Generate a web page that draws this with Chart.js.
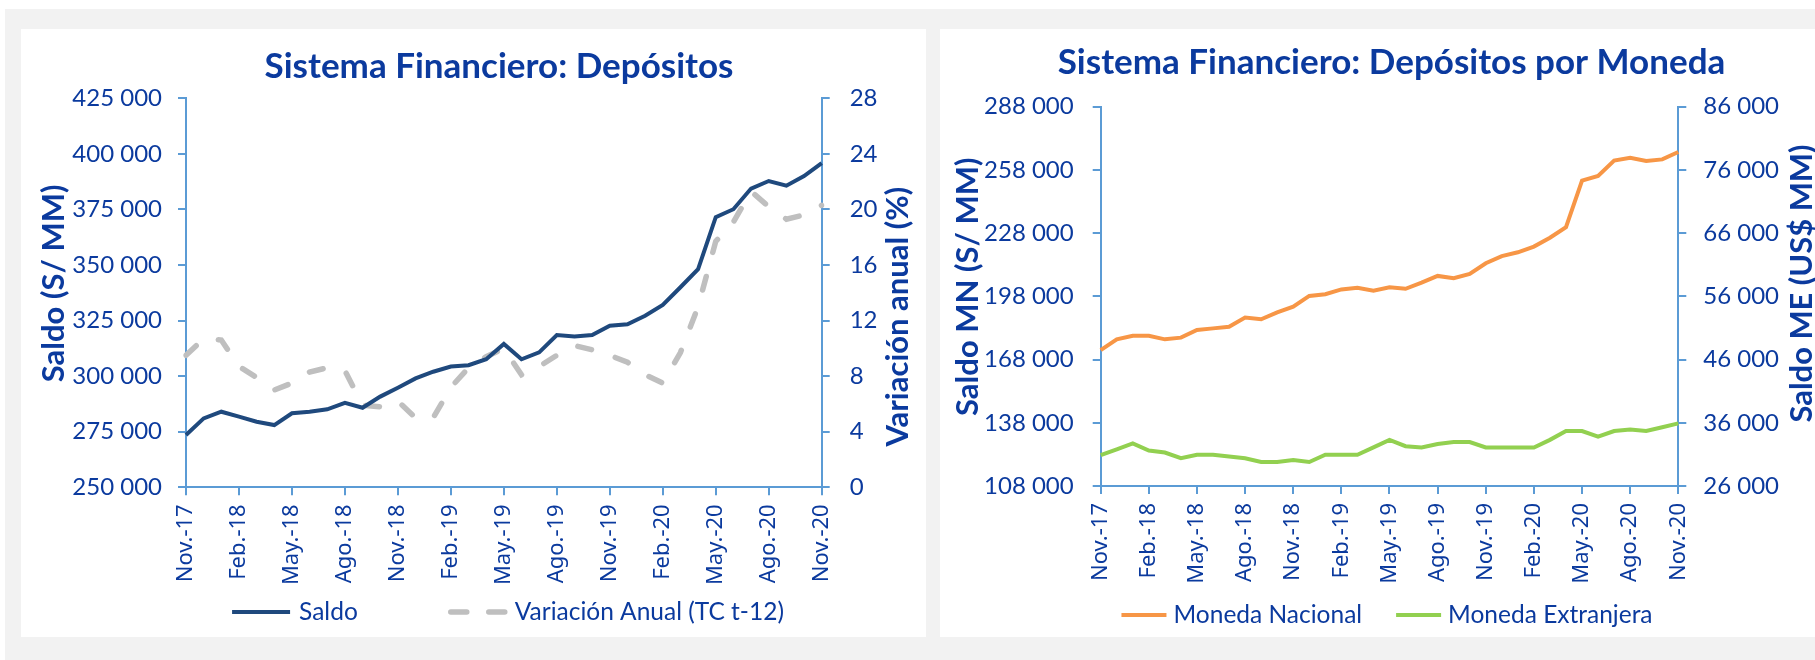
<!DOCTYPE html>
<html lang="es">
<head>
<meta charset="utf-8">
<title>Sistema Financiero: Depósitos</title>
<script src="https://cdn.jsdelivr.net/npm/chart.js@4.4.1/dist/chart.umd.min.js"></script>
<style>
  html, body { margin: 0; padding: 0; background: #fff; }
  body { width: 1815px; height: 660px; position: relative; overflow: hidden; }
  .fondo { position: absolute; left: 5px; top: 9px; right: 0; bottom: 0; background: #f2f2f2; }
  .panel { position: absolute; top: 29px; height: 608px; background: #fff; }
  #panelIzq { left: 21px; width: 905px; }
  #panelDer { left: 940px; width: 875px; }
  canvas { display: block; }
</style>
</head>
<body>
<div class="fondo"></div>
<div class="panel" id="panelIzq"><canvas id="chartDepositos" width="905" height="608"></canvas></div>
<div class="panel" id="panelDer"><canvas id="chartMoneda" width="875" height="608"></canvas></div>
<script>
// Datos (nov-17 a nov-20, mensual)
const meses = [
  'Nov.-17', 'Dic.-17', 'Ene.-18', 'Feb.-18', 'Mar.-18', 'Abr.-18', 'May.-18', 'Jun.-18', 'Jul.-18', 'Ago.-18',
  'Set.-18', 'Oct.-18', 'Nov.-18', 'Dic.-18', 'Ene.-19', 'Feb.-19', 'Mar.-19', 'Abr.-19', 'May.-19', 'Jun.-19',
  'Jul.-19', 'Ago.-19', 'Set.-19', 'Oct.-19', 'Nov.-19', 'Dic.-19', 'Ene.-20', 'Feb.-20', 'Mar.-20', 'Abr.-20',
  'May.-20', 'Jun.-20', 'Jul.-20', 'Ago.-20', 'Set.-20', 'Oct.-20', 'Nov.-20'
];
const saldo = [
  273500, 281000, 284000, 281800, 279500, 278000, 283300, 284000, 285100, 288000,
  285800, 290800, 294800, 299000, 302000, 304300, 304900, 307600, 314500, 307600,
  310700, 318500, 317800, 318500, 322700, 323300, 327200, 332000, 340000, 348100,
  371500, 375100, 384400, 387800, 385700, 390000, 395800
];
const variacionAnual = [
  9.5, 10.7, 10.6, 8.7, 7.9, 7.0, 7.5, 8.3, 8.6, 8.4,
  5.9, 5.8, 6.2, 5.0, 5.0, 7.2, 8.6, 9.4, 10.0, 8.1,
  8.7, 9.5, 10.2, 9.9, 9.5, 9.0, 8.1, 7.5, 9.7, 13.0,
  17.7, 19.1, 21.3, 20.2, 19.3, 19.6, 20.3
];
const monedaNacional = [
  172500, 177600, 179300, 179300, 177600, 178400, 182000, 182800, 183600, 187900,
  187100, 190400, 193100, 198200, 199000, 201300, 202100, 200700, 202300, 201600,
  204500, 207700, 206600, 208600, 213700, 217100, 218900, 221600, 225800, 230800,
  252900, 255100, 262400, 263800, 262200, 263000, 266500
];
const monedaExtranjera = [
  30900, 31800, 32750, 31600, 31300, 30400, 30950, 30950, 30650, 30400,
  29800, 29800, 30100, 29800, 30950, 30950, 30950, 32100, 33300, 32300,
  32100, 32650, 32950, 32950, 32100, 32100, 32100, 32100, 33300, 34700,
  34700, 33800, 34700, 34950, 34700, 35300, 35900
];

const azulTexto = '#0b3a9e';
const azulEje = '#5b9bd5';
const fuente = 'Lato, "Open Sans", sans-serif';
const ALTO = 608;

Chart.defaults.font.family = fuente;
Chart.defaults.color = azulTexto;

const miles = v => String(v).replace(/\B(?=(\d{3})+(?!\d))/g, ' ');

// Titulos de eje verticales, leidos de abajo hacia arriba (como en Excel)
const titulosEjes = (items) => ({
  id: 'titulosEjes',
  afterDraw(chart) {
    const ctx = chart.ctx;
    ctx.save();
    ctx.fillStyle = azulTexto;
    ctx.font = `bold 31px ${fuente}`;
    ctx.textAlign = 'center';
    ctx.textBaseline = 'middle';
    items.forEach(t => {
      ctx.save();
      ctx.translate(t.x, t.y);
      ctx.rotate(-Math.PI / 2);
      ctx.fillText(t.text, 0, 0, t.largo);
      ctx.restore();
    });
    ctx.restore();
  }
});

// Leyenda dibujada a mano: la de Chart.js usa el mismo padding en horizontal y vertical
const leyendaPropia = (cfg) => ({
  id: 'leyendaPropia',
  afterDraw(chart) {
    const ctx = chart.ctx;
    ctx.save();
    ctx.font = `24.5px ${fuente}`;
    ctx.textBaseline = 'middle';
    const items = chart.data.datasets.map(ds => ({ ds, w: ctx.measureText(ds.label).width }));
    const total = items.reduce((s, it) => s + cfg.muestra + cfg.sep + it.w, 0) + cfg.espacio * (items.length - 1);
    let x = cfg.centro - total / 2;
    items.forEach(({ ds, w }) => {
      const punteada = Array.isArray(ds.borderDash);
      ctx.beginPath();
      ctx.strokeStyle = ds.borderColor;
      ctx.lineWidth = ds.borderWidth;
      ctx.lineCap = ds.borderCapStyle || 'butt';
      ctx.setLineDash(punteada ? [16, 22] : []);
      ctx.moveTo(x + (punteada ? 3 : 0), cfg.y);
      ctx.lineTo(x + cfg.muestra, cfg.y);
      ctx.stroke();
      ctx.setLineDash([]);
      x += cfg.muestra + cfg.sep;
      ctx.fillStyle = azulTexto;
      ctx.fillText(ds.label, x, cfg.y);
      x += w + cfg.espacio;
    });
    ctx.restore();
  }
});

const ejeY = (position, min, max, step, padding, ancho) => ({
  position, min, max,
  ticks: { stepSize: step, padding, color: azulTexto, font: { size: 24 }, callback: v => miles(v) },
  grid: { drawOnChartArea: false, tickLength: 8, lineWidth: 2, color: azulEje },
  border: { color: azulEje, width: 2 },
  afterFit: s => { s.width = ancho; }
});

const ejeX = (fondoGrafico) => ({
  ticks: {
    autoSkip: false, minRotation: 90, maxRotation: 90, padding: 9,
    color: azulTexto, font: { family: '"Noto Sans", "DejaVu Sans", sans-serif', size: 22 },
    callback: function (v, i) { return i % 3 === 0 ? this.getLabelForValue(v) : ''; }
  },
  grid: {
    drawOnChartArea: false, tickLength: 8, lineWidth: 2,
    color: c => (c.index % 3 === 0 ? azulEje : 'rgba(0,0,0,0)')
  },
  border: { color: azulEje, width: 2 },
  afterFit: s => { s.height = ALTO - fondoGrafico; }
});

const titulo = (texto, arriba, abajo) => ({
  display: true, text: texto, color: azulTexto,
  font: { size: 35, weight: 'bold', lineHeight: 1.2 },
  padding: { top: arriba, bottom: abajo }
});

// Grafico 1: Depositos
new Chart(document.getElementById('chartDepositos'), {
  type: 'line',
  data: {
    labels: meses,
    datasets: [
      { label: 'Saldo', data: saldo, yAxisID: 'y', borderColor: '#1f497d', backgroundColor: '#1f497d',
        borderWidth: 4, pointRadius: 0, tension: 0 },
      { label: 'Variación Anual (TC t-12)', data: variacionAnual, yAxisID: 'y2', borderColor: '#bfbfbf',
        backgroundColor: '#bfbfbf', borderWidth: 5.5, borderDash: [14, 25], borderCapStyle: 'round',
        pointRadius: 0, tension: 0 }
    ]
  },
  options: {
    responsive: false, animation: false, devicePixelRatio: 1,
    layout: { padding: { left: 51, right: 0, top: 0, bottom: 0 } },
    plugins: {
      title: titulo('Sistema Financiero: Depósitos', 16.5, 10.8),
      legend: { display: false },
      tooltip: { enabled: false }
    },
    scales: {
      x: ejeX(458.3),
      y: ejeY('left', 250000, 425000, 25000, 16, 114),
      y2: ejeY('right', 0, 28, 4, 20, 104.3)
    }
  },
  plugins: [
    titulosEjes([
      { text: 'Saldo (S/ MM)', x: 33, y: 254.4, largo: 203 },
      { text: 'Variación anual (%)', x: 877, y: 287.7, largo: 267 }
    ]),
    leyendaPropia({ centro: 487, y: 583, muestra: 58, sep: 9, espacio: 90 })
  ]
});

// Grafico 2: Depositos por moneda
new Chart(document.getElementById('chartMoneda'), {
  type: 'line',
  data: {
    labels: meses,
    datasets: [
      { label: 'Moneda Nacional', data: monedaNacional, yAxisID: 'y', borderColor: '#f79646',
        backgroundColor: '#f79646', borderWidth: 4, pointRadius: 0, tension: 0 },
      { label: 'Moneda Extranjera', data: monedaExtranjera, yAxisID: 'y2', borderColor: '#92d050',
        backgroundColor: '#92d050', borderWidth: 4, pointRadius: 0, tension: 0 }
    ]
  },
  options: {
    responsive: false, animation: false, devicePixelRatio: 1,
    layout: { padding: { left: 28, right: 0, top: 0, bottom: 0 } },
    plugins: {
      title: titulo('Sistema Financiero: Depósitos por Moneda', 13, 22.7),
      legend: { display: false },
      tooltip: { enabled: false }
    },
    scales: {
      x: ejeX(457),
      y: ejeY('left', 108000, 288000, 30000, 19, 132.7),
      y2: ejeY('right', 26000, 86000, 10000, 17, 136.7)
    }
  },
  plugins: [
    titulosEjes([
      { text: 'Saldo MN (S/ MM)', x: 28, y: 257.7, largo: 263 },
      { text: 'Saldo ME (US$ MM)', x: 862, y: 254.5, largo: 278 }
    ]),
    leyendaPropia({ centro: 447, y: 586, muestra: 45, sep: 7, espacio: 34 })
  ]
});
</script>
</body>
</html>
